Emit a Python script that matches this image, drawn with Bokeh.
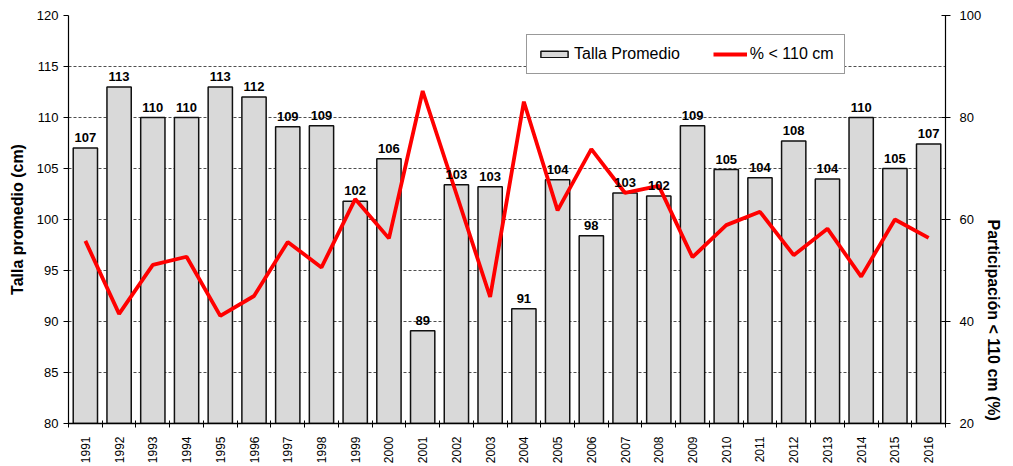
from math import pi
from bokeh.plotting import figure
from bokeh.models import (Range1d, LinearAxis, FixedTicker, Legend, LegendItem,
                          ColumnDataSource)
from bokeh.core.properties import value
from bokeh.embed import file_html
from bokeh.resources import INLINE

years = list(range(1991, 2017))
talla = [107.0, 113.0, 110.0, 110.0, 113.0, 112.0, 109.1, 109.2, 101.8, 105.95,
         89.1, 103.4, 103.2, 91.25, 103.9, 98.4, 102.6, 102.3, 109.2, 104.9,
         104.1, 107.7, 103.97, 110.0, 105.0, 107.4]
pct = [55.8, 41.5, 51.1, 52.7, 41.1, 45.0, 55.6, 50.6, 64.0, 56.3,
       85.2, 65.0, 44.8, 83.1, 61.8, 73.8, 65.2, 66.6, 52.6, 58.9,
       61.5, 53.0, 58.2, 48.8, 60.0, 56.4]
labels = ["%d" % int(round(v + 1e-9)) for v in talla]
left_ticks = list(range(80, 121, 5))
right_ticks = list(range(20, 101, 20))

FONT = "Liberation Sans"

src = ColumnDataSource(dict(x=years, talla=talla, pct=pct, lab=labels))

p = figure(width=1013, height=466, output_backend="svg", toolbar_location=None,
           x_range=Range1d(1990.5, 2016.5), y_range=Range1d(80, 120),
           min_border_left=68, min_border_right=64, min_border_top=15,
           min_border_bottom=41)
p.extra_y_ranges = {"pct": Range1d(20, 100)}
p.outline_line_color = None
p.background_fill_color = "white"
p.border_fill_color = "white"

bars = p.vbar(x="x", top="talla", bottom=80, width=0.72, source=src,
              fill_color="#d9d9d9", line_color="#111111", line_width=1.5)
line = p.line(x="x", y="pct", source=src, y_range_name="pct",
              line_color="#ff0000", line_width=3.8)
p.text(x="x", y="talla", text="lab", source=src, text_align="center",
       text_baseline="bottom", y_offset=-6, text_font=value(FONT),
       text_font_size="13px", text_font_style="bold", text_color="black")

# x axis
xa = p.xaxis[0]
xa.ticker = FixedTicker(ticks=years, minor_ticks=[y - 0.5 for y in years] + [2016.5])
xa.major_tick_line_color = None
xa.minor_tick_line_color = "black"
xa.minor_tick_out = 4
xa.minor_tick_in = 3
xa.major_label_orientation = pi / 2
xa.major_label_text_font = FONT
xa.major_label_text_font_size = "12px"
xa.major_label_text_color = "black"
xa.major_label_standoff = 7
xa.axis_line_color = "black"
xa.axis_line_width = 1.5

# left axis
ya = p.yaxis[0]
ya.ticker = FixedTicker(ticks=left_ticks)
ya.axis_label = "Talla promedio (cm)"
ya.axis_label_text_font = FONT
ya.axis_label_text_font_size = "16px"
ya.axis_label_text_font_style = "bold"
ya.axis_label_text_color = "black"
ya.axis_label_standoff = 8
ya.major_label_text_font = FONT
ya.major_label_text_font_size = "13px"
ya.major_label_text_color = "black"
ya.major_tick_out = 5
ya.major_tick_in = 0
ya.minor_tick_line_color = None
ya.axis_line_color = "black"
ya.axis_line_width = 1.2

# right axis
ra = LinearAxis(y_range_name="pct", ticker=FixedTicker(ticks=right_ticks))
ra.axis_label = "Participación < 110 cm (%)"
ra.axis_label_text_font = FONT
ra.axis_label_text_font_size = "16px"
ra.axis_label_text_font_style = "bold"
ra.axis_label_text_color = "black"
ra.axis_label_standoff = 9
try:
    ra.axis_label_orientation = -pi / 2
except Exception:
    pass
ra.major_label_text_font = FONT
ra.major_label_text_font_size = "13px"
ra.major_label_text_color = "black"
ra.major_label_standoff = 9
ra.major_tick_out = 5
ra.major_tick_in = 4
ra.minor_tick_line_color = None
ra.axis_line_color = "black"
ra.axis_line_width = 1.2
p.add_layout(ra, "right")

p.xgrid.grid_line_color = None
p.ygrid.grid_line_color = "#222222"
p.ygrid.grid_line_dash = "3 2"
p.ygrid.grid_line_width = 0.8

legend = Legend(items=[LegendItem(label="Talla Promedio", renderers=[bars]),
                       LegendItem(label="% < 110 cm", renderers=[line])],
                orientation="horizontal", location=(458, 349),
                glyph_width=34, glyph_height=8, label_standoff=3, spacing=33,
                padding=10, margin=0,
                label_text_font=FONT, label_text_font_size="16px",
                label_text_color="black",
                border_line_color="#333333", border_line_width=1,
                background_fill_color="white", background_fill_alpha=1)
p.add_layout(legend)

open("out.html", "w").write(file_html(p, INLINE))
